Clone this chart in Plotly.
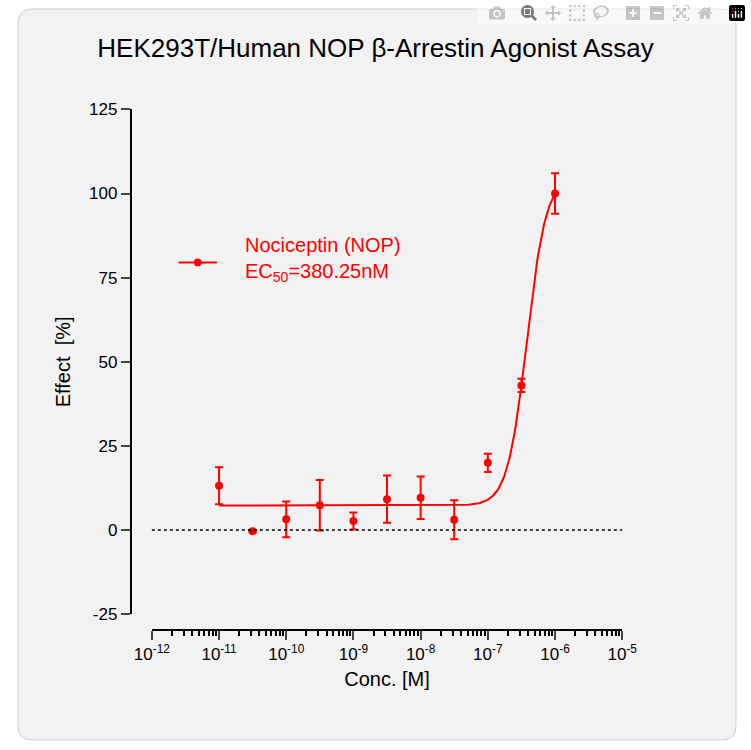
import numpy as np
import plotly.graph_objects as go

conc = [1e-11, 3.16e-11, 1e-10, 3.16e-10, 1e-9, 3.16e-9, 1e-8, 3.16e-8, 1e-7, 3.16e-7, 1e-6]
effect = [13.2, -0.3, 3.2, 7.4, 2.7, 9.2, 9.6, 3.1, 20.0, 43.0, 100.0]
err = [5.5, 0.3, 5.3, 7.5, 2.5, 7.0, 6.3, 5.8, 2.7, 2.0, 6.0]
fit_bottom, fit_top, fit_ec50, fit_hill = 7.3, 105.0, 380.25e-9, 3.0
tickvals = [1e-12, 1e-11, 1e-10, 1e-9, 1e-8, 1e-7, 1e-6, 1e-5]
ticktext = ["10<sup>-12</sup>", "10<sup>-11</sup>", "10<sup>-10</sup>", "10<sup>-9</sup>",
            "10<sup>-8</sup>", "10<sup>-7</sup>", "10<sup>-6</sup>", "10<sup>-5</sup>"]
yticks = [-25, 0, 25, 50, 75, 100, 125]
yticktext = ["-25", "0", "25", "50", "75", "100", "125"]

red = "#ff0000"
xc = np.logspace(-11, -6, 300)
yc = fit_bottom + (fit_top - fit_bottom) / (1 + (fit_ec50 / xc) ** fit_hill)

fig = go.Figure()
fig.add_trace(go.Scatter(x=xc, y=yc, mode="lines", line=dict(color=red, width=2), showlegend=False))
fig.add_trace(go.Scatter(x=conc, y=effect, mode="markers", marker=dict(color=red, size=8),
                         error_y=dict(type="data", array=err, color=red, thickness=2, width=4),
                         showlegend=False))
W, H = 751, 750
mx, my, r = 188 / W, 1 - 260 / H, 4
fig.update_layout(
    width=W, height=H, margin=dict(l=0, r=0, t=0, b=0),
    paper_bgcolor="white", plot_bgcolor="rgba(0,0,0,0)",
    font=dict(family="Liberation Sans, Arial", color="black"),
    title=dict(text="HEK293T/Human NOP β-Arrestin Agonist Assay", x=0.5, xanchor="center",
               y=1 - 48 / H, yanchor="middle", font=dict(size=26)),
    xaxis=dict(type="log", range=[-12, -5], domain=[140 / W, 632 / W], anchor="free",
               position=1 - 637 / H, showgrid=False, zeroline=False, showline=True,
               linecolor="black", linewidth=2, ticks="outside", ticklen=9, tickwidth=2,
               tickvals=tickvals, ticktext=ticktext, tickfont=dict(size=17),
               minor=dict(ticks="outside", ticklen=5, tickwidth=1.5, dtick="D1", tickcolor="black"),
               title=dict(text="Conc. [M]", font=dict(size=20), standoff=8)),
    yaxis=dict(range=[-25, 125], domain=[1 - 621 / H, 1 - 103 / H], anchor="free",
               position=118 / W, showgrid=False, zeroline=False, showline=True,
               linecolor="black", linewidth=2, ticks="outside", ticklen=9, tickwidth=2,
               tickvals=yticks, ticktext=yticktext, tickfont=dict(size=17),
               title=dict(text="Effect  [%]", font=dict(size=20), standoff=12)),
    shapes=[
        dict(type="path", xref="paper", yref="paper", layer="below",
             path="M 0.02,0 L 0.98,0 Q 1,0 1,0.02 L 1,0.98 Q 1,1 0.98,1 L 0.02,1 Q 0,1 0,0.98 L 0,0.02 Q 0,0 0.02,0 Z",
             fillcolor="#f2f2f2", line=dict(color="#cccccc", width=1)),
        dict(type="line", xref="x domain", yref="y", x0=0, x1=1, y0=0, y1=0,
             line=dict(color="black", width=1.5, dash="dot")),
        dict(type="line", xref="paper", yref="paper", x0=168 / W, x1=208 / W,
             y0=my, y1=my, line=dict(color=red, width=2)),
        dict(type="circle", xref="paper", yref="paper", x0=mx - r / W, x1=mx + r / W,
             y0=my - r / H, y1=my + r / H, fillcolor=red, line=dict(color=red, width=0)),
    ],
    annotations=[
        dict(xref="paper", yref="paper", x=235 / W, y=1 - 242 / H, text="Nociceptin (NOP)",
             showarrow=False, xanchor="left", yanchor="middle", font=dict(size=20, color=red)),
        dict(xref="paper", yref="paper", x=235 / W, y=1 - 270 / H, text="EC<sub>50</sub>=380.25nM",
             showarrow=False, xanchor="left", yanchor="middle", font=dict(size=20, color=red)),
    ],
)
fig.write_html("out.html", post_script="document.body.style.margin='0';document.body.style.overflow='hidden';")
